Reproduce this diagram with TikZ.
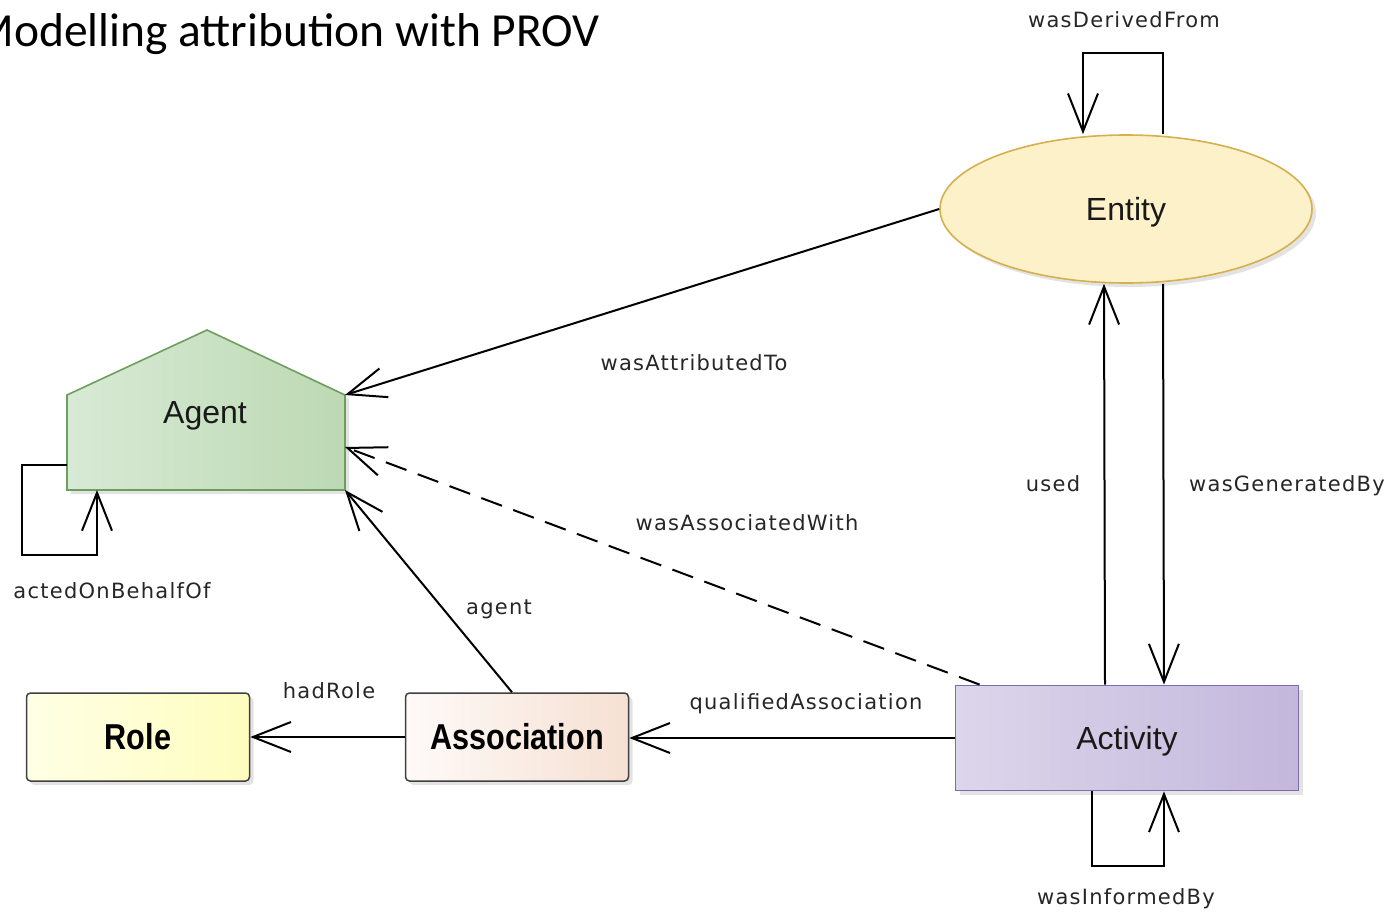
\documentclass[tikz,border=0pt]{standalone}
\usepackage{fontspec}
\setmainfont{Liberation Sans}
\newfontfamily\titlefont{Carlito}
\newfontfamily\labelfont[LetterSpace=6]{DejaVu Sans}
\newfontfamily\boxfont[FakeStretch=0.85]{Liberation Sans}
\usetikzlibrary{arrows.meta,shapes.geometric,shadows}

\definecolor{agentL}{HTML}{D8EAD5}
\definecolor{agentR}{HTML}{BCD9B3}
\definecolor{agentLine}{HTML}{6E9E5E}
\definecolor{entityFill}{HTML}{FDF1CA}
\definecolor{entityLine}{HTML}{D6B04E}
\definecolor{activityL}{HTML}{DCD6EB}
\definecolor{activityR}{HTML}{C3B7DC}
\definecolor{activityLine}{HTML}{7D6BB2}
\definecolor{roleL}{HTML}{FFFFE6}
\definecolor{roleR}{HTML}{FEFDBE}
\definecolor{assocL}{HTML}{FEFAF8}
\definecolor{assocR}{HTML}{F6E0D3}

\begin{document}
\begin{tikzpicture}[x=1pt, y=-1pt,
    >={Straight Barb[length=38pt,width=30pt]},
    rel/.style={line width=2pt, ->},
    lbl/.style={font=\labelfont\fontsize{21}{25}\selectfont, text=black!85},
    shade/.style={drop shadow={shadow xshift=4pt, shadow yshift=-4pt, opacity=0.22}},
    bigtext/.style={font=\fontsize{32}{36}\selectfont, text=black!90, text height=23pt, text depth=0pt},
    classbox/.style={rectangle, draw=black!75, line width=1.5pt, rounded corners=4pt,
        minimum width=223pt, minimum height=88pt, shade,
        font=\boxfont\bfseries\fontsize{36}{40}\selectfont}]
    \useasboundingbox (0,0) rectangle (1393,912);

    % Title
    \node[font=\titlefont\fontsize{47.5}{52}\selectfont, anchor=base east, inner sep=0] (title) at (600,47) {Modelling attribution with PROV};

    % Agent (house shape)
    \path[shade, left color=agentL, right color=agentR, draw=agentLine, line width=1.6pt]
        (67,490) -- (67,395) -- (207,330) -- (345,395) -- (345,490) -- cycle;
    \node[bigtext] (agent) at (205,412) {Agent};
    \coordinate (agentNE) at (345,395);
    \coordinate (agentE) at (345,447);
    \coordinate (agentSE) at (345,490);
    \coordinate (agentLoopOut) at (67,465);
    \coordinate (agentLoopIn) at (97,490);

    % Entity
    \node[ellipse, shade, fill=entityFill, draw=entityLine, line width=1.6pt, inner sep=0,
        minimum width=372pt, minimum height=148pt, bigtext] (entity) at (1126,209) {Entity};

    % Activity
    \node[rectangle, shade, left color=activityL, right color=activityR, draw=activityLine, line width=1.8pt,
        minimum width=343pt, minimum height=105pt, bigtext] (activity) at (1127,738) {Activity};

    % Role and Association
    \node[classbox, left color=roleL, right color=roleR] (role) at (138,737) {Role};
    \node[classbox, left color=assocL, right color=assocR] (association) at (517,737) {Association};

    % Relations
    \draw[rel] ([xshift=37pt]entity.north) -- ++(0,-81) -| ([xshift=-43pt]entity.north);
    \draw[rel] (entity.west) -- (agentNE);
    \draw[rel] (agentLoopOut) -| ++(-45,90) -| (agentLoopIn);
    \draw[rel, dash pattern=on 22pt off 12pt] ([xshift=25pt]activity.north west) -- (agentE);
    \draw[rel] ([xshift=-22pt]activity.north) -- ([xshift=-22pt]entity.south);
    \draw[rel] ([xshift=37pt]entity.south) -- ([xshift=37pt]activity.north);
    \draw[rel] ([xshift=-5pt]association.north) -- (agentSE);
    \draw[rel] (activity.west) -- (activity.west -| association.east);
    \draw[rel] (association.west) -- (role.east);
    \draw[rel] ([xshift=-35pt]activity.south) -- ++(0,75) -| ([xshift=37pt]activity.south);

    % Labels
    \node[lbl] (lDerived) at (1124,20) {wasDerivedFrom};
    \node[lbl] (lAttributed) at (694,363) {wasAttributedTo};
    \node[lbl] (lBehalf) at (112,591) {actedOnBehalfOf};
    \node[lbl] (lAssociated) at (747,523) {wasAssociatedWith};
    \node[lbl] (lUsed) at (1053,484) {used};
    \node[lbl] (lGenerated) at (1287,486) {wasGeneratedBy};
    \node[lbl] (lAgent) at (499,609) {agent};
    \node[lbl] (lRole) at (329,691) {hadRole};
    \node[lbl] (lQualified) at (806,704) {qualifiedAssociation};
    \node[lbl] (lInformed) at (1126,899) {wasInformedBy};
\end{tikzpicture}
\end{document}
